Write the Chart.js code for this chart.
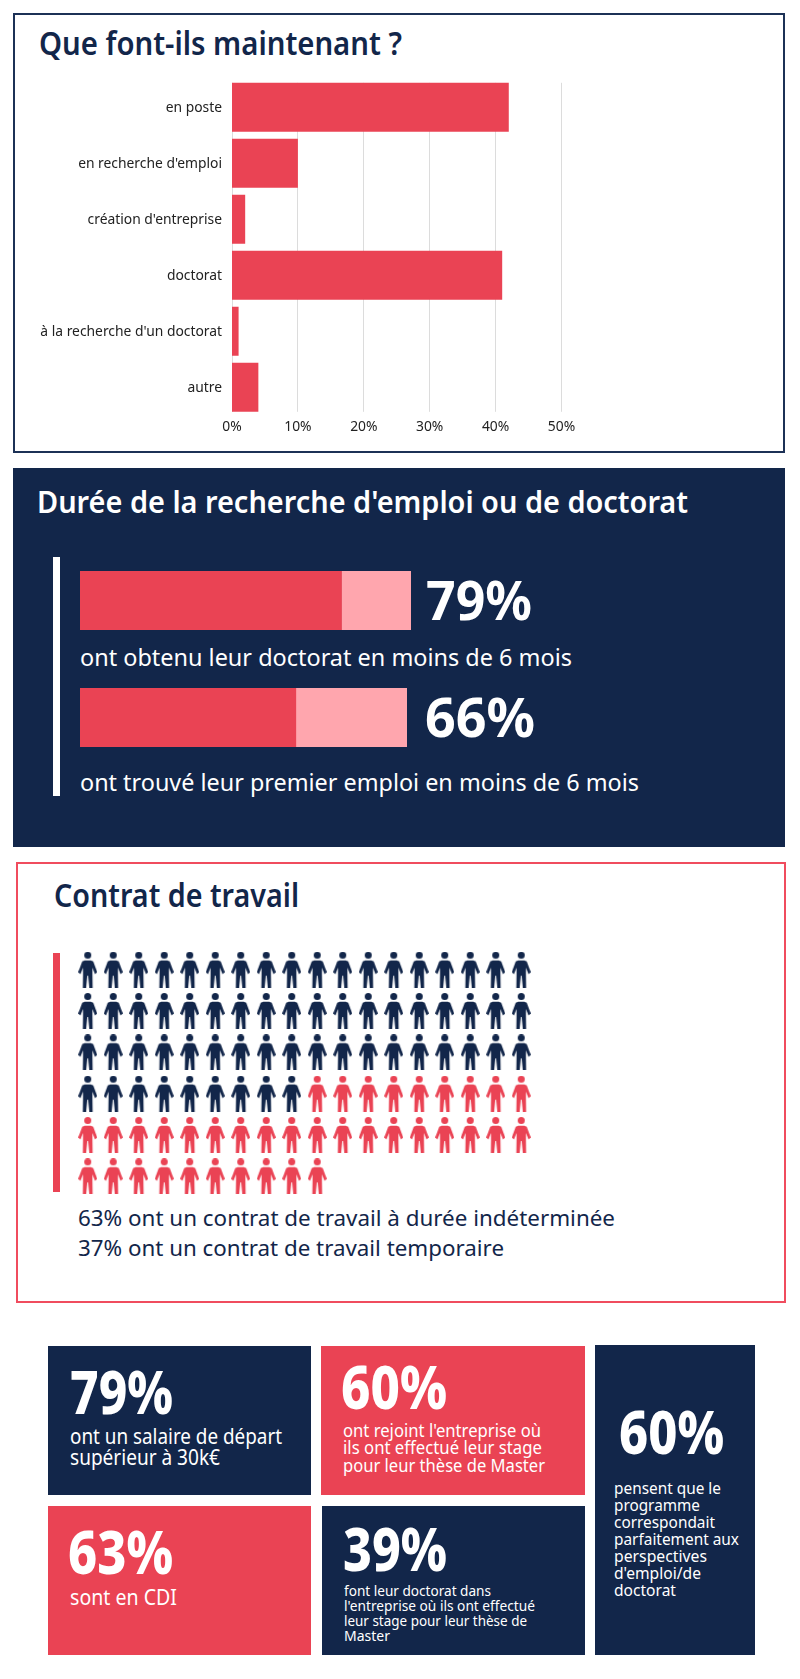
<!DOCTYPE html>
<html lang="fr"><head><meta charset="utf-8">
<script src="https://cdn.jsdelivr.net/npm/chart.js@4"></script>
<style>
html,body{margin:0;padding:0;background:#fff;width:800px;height:1679px;overflow:hidden;position:relative}
.b{position:absolute;box-sizing:border-box}
.navy{background:#12264a}.red{background:#ea4354}
canvas{position:absolute;display:block}
.t{position:absolute;white-space:nowrap;transform-origin:0 0;font-family:"Noto Sans",sans-serif;line-height:1}
.w{color:#fff}.n{color:#12264a}
.h{font-weight:600}.big{font-weight:800}.mid{font-weight:700}
</style></head><body>
<div class="b" style="left:13px;top:13px;width:772px;height:440px;border:2px solid #1c3156"></div>
<div class="b navy" style="left:13.3px;top:468px;width:771.7px;height:379px"></div>
<div class="b" style="left:16px;top:862px;width:770px;height:441px;border:2px solid #f04c5e"></div>
<div class="b" style="left:53px;top:557px;width:7px;height:239px;background:#fff"></div>
<div class="b red" style="left:53px;top:953px;width:7px;height:239px"></div>
<div class="b navy" style="left:48px;top:1346px;width:263px;height:149px"></div>
<div class="b red" style="left:321px;top:1346px;width:264px;height:149px"></div>
<div class="b navy" style="left:595px;top:1345px;width:160px;height:310px"></div>
<div class="b red" style="left:48px;top:1506px;width:263px;height:149px"></div>
<div class="b navy" style="left:322px;top:1506px;width:263px;height:149px"></div>

<canvas id="main" width="600" height="370" style="left:16px;top:70px;width:600px;height:370px"></canvas>
<canvas id="dur1" width="331" height="59" style="left:80px;top:571px;width:331px;height:59px"></canvas>
<canvas id="dur2" width="327" height="59" style="left:80px;top:688px;width:327px;height:59px"></canvas>
<canvas id="waffle" width="459" height="248" style="left:75px;top:949px;width:459px;height:248px"></canvas>

<div class="t n h" style="left:39px;font-size:32px" data-base="55" data-w="363">Que font-ils maintenant ?</div>
<div class="t w h" style="left:37px;font-size:31px" data-base="513" data-w="651">Durée de la recherche d'emploi ou de doctorat</div>
<div class="t w mid" style="left:426px;font-size:54px" data-base="620" data-w="106">79%</div>
<div class="t w mid" style="left:425px;font-size:54px" data-base="737" data-w="110">66%</div>
<div class="t w" style="left:80px;font-size:23px" data-base="666" data-w="492">ont obtenu leur doctorat en moins de 6 mois</div>
<div class="t w" style="left:80px;font-size:23px" data-base="791" data-w="559">ont trouvé leur premier emploi en moins de 6 mois</div>
<div class="t n h" style="left:53.5px;font-size:32px" data-base="907" data-w="245">Contrat de travail</div>
<div class="t n" style="left:78px;font-size:22px" data-base="1226" data-w="537">63% ont un contrat de travail à durée indéterminée</div>
<div class="t n" style="left:78px;font-size:22px" data-base="1256" data-w="426">37% ont un contrat de travail temporaire</div>

<div class="t w big" style="left:70px;font-size:60px" data-base="1414" data-w="103">79%</div>
<div class="t w" style="left:70.4px;font-size:22px" data-base="1444" data-w="212">ont un salaire de départ</div>
<div class="t w" style="left:70.4px;font-size:22px" data-base="1465" data-w="150">supérieur à 30k€</div>

<div class="t w big" style="left:341px;font-size:60px" data-base="1409" data-w="106">60%</div>
<div class="t w" style="left:343.4px;font-size:18.5px" data-base="1437" data-w="198">ont rejoint l'entreprise où</div>
<div class="t w" style="left:343.4px;font-size:18.5px" data-base="1454" data-w="199">ils ont effectué leur stage</div>
<div class="t w" style="left:343.4px;font-size:18.5px" data-base="1472" data-w="202">pour leur thèse de Master</div>

<div class="t w big" style="left:619px;font-size:60px" data-base="1454" data-w="105">60%</div>
<div class="t w" style="left:614.3px;font-size:17px" data-base="1494" data-w="107">pensent que le</div>
<div class="t w" style="left:614.3px;font-size:17px" data-base="1511" data-w="86">programme</div>
<div class="t w" style="left:614.3px;font-size:17px" data-base="1528" data-w="101">correspondait</div>
<div class="t w" style="left:614.3px;font-size:17px" data-base="1545" data-w="125">parfaitement aux</div>
<div class="t w" style="left:614.3px;font-size:17px" data-base="1562" data-w="93">perspectives</div>
<div class="t w" style="left:614.3px;font-size:17px" data-base="1579" data-w="87">d'emploi/de</div>
<div class="t w" style="left:614.3px;font-size:17px" data-base="1596" data-w="62">doctorat</div>

<div class="t w big" style="left:68.4px;font-size:60px" data-base="1574" data-w="105">63%</div>
<div class="t w" style="left:70.4px;font-size:22px" data-base="1605" data-w="107">sont en CDI</div>

<div class="t w big" style="left:343.4px;font-size:60px" data-base="1571" data-w="104">39%</div>
<div class="t w" style="left:344.4px;font-size:15px" data-base="1596" data-w="147">font leur doctorat dans</div>
<div class="t w" style="left:344.4px;font-size:15px" data-base="1611" data-w="191">l'entreprise où ils ont effectué</div>
<div class="t w" style="left:344.4px;font-size:15px" data-base="1626" data-w="183">leur stage pour leur thèse de</div>
<div class="t w" style="left:344.4px;font-size:15px" data-base="1641" data-w="46">Master</div>

<script>
const situationLabels = ["en poste","en recherche d'emploi","création d'entreprise","doctorat","à la recherche d'un doctorat","autre"];
const situationValues = [42,10,2,41,1,4];
const axisTicks = [0,10,20,30,40,50];
const doctoratSplit = [79,21];
const emploiSplit = [66,34];
const contractLabels = ["CDI","temporaire"];
const contractCounts = [63,37];

const NAVY="#12264a", RED="#ea4354", PINK="#ffa6ae";
Chart.defaults.animation=false;
Chart.defaults.responsive=false;
Chart.defaults.font.family='"Noto Sans",sans-serif';

/* text: baseline + width fitting */
document.querySelectorAll('.t').forEach(el=>{
  const m=document.createElement('span');
  m.style.cssText='display:inline-block;width:0;height:0;vertical-align:baseline';
  el.style.top='0px';
  el.appendChild(m);
  const off=m.getBoundingClientRect().bottom-el.getBoundingClientRect().top;
  el.removeChild(m);
  el.style.top=(+el.dataset.base-off)+'px';
  const w=el.getBoundingClientRect().width;
  el.style.transform='scaleX('+(+el.dataset.w/w)+')';
});

/* grid lines that span exactly from the first bar's top to the last bar's bottom */
const barGrid={id:'barGrid',beforeDatasetsDraw(c){
  const x=c.scales.x,ctx=c.ctx,bars=c.getDatasetMeta(0).data;
  const top=bars[0].y-bars[0].height/2,bottom=bars[bars.length-1].y+bars[bars.length-1].height/2;
  ctx.save();ctx.strokeStyle='#dcdcdc';ctx.lineWidth=1;
  axisTicks.forEach(v=>{const p=Math.floor(x.getPixelForValue(v))+.5;ctx.beginPath();ctx.moveTo(p,top);ctx.lineTo(p,bottom);ctx.stroke();});
  ctx.restore();
}};
new Chart(document.getElementById('main'),{
  type:'bar',plugins:[barGrid],
  data:{labels:situationLabels,datasets:[{data:situationValues,backgroundColor:RED,barPercentage:.875,categoryPercentage:1}]},
  options:{indexAxis:'y',layout:{padding:{top:9.3,right:54.5,left:0,bottom:0}},
    plugins:{legend:{display:false},tooltip:{enabled:false}},
    scales:{
      x:{min:0,max:50,afterBuildTicks(a){a.ticks=axisTicks.map(v=>({value:v}))},afterFit(a){a.height=24.7},
        border:{display:false},grid:{display:false,drawTicks:false},
        ticks:{padding:3,color:'#222',font:{size:13.85},callback:v=>v+'%',maxRotation:0}},
      y:{afterFit(a){a.width=216;a.paddingTop=0;a.paddingBottom=0},border:{display:false},grid:{display:false,drawTicks:false},
        ticks:{padding:10,color:'#222',font:{size:13.85},labelOffset:1}}
    }}
});

function splitBar(id,values){
  new Chart(document.getElementById(id),{type:'bar',
    data:{labels:[''],datasets:[
      {data:[values[0]],backgroundColor:RED,barPercentage:1,categoryPercentage:1,stack:'s'},
      {data:[values[1]],backgroundColor:PINK,barPercentage:1,categoryPercentage:1,stack:'s'}]},
    options:{indexAxis:'y',layout:{padding:0},plugins:{legend:{display:false},tooltip:{enabled:false}},
      scales:{x:{display:false,stacked:true,min:0,max:100},y:{display:false,stacked:true}}}});
}
splitBar('dur1',doctoratSplit);
splitBar('dur2',emploiSplit);

function person(color){
  const c=document.createElement('canvas');c.width=19;c.height=36;
  const g=c.getContext('2d');g.fillStyle=color;
  g.beginPath();g.arc(9.5,3.6,3.5,0,Math.PI*2);g.fill();
  const s=[[6.5,8.7],[12.5,8.7],[15,9.7],[19,20.5],[16.8,22.5],[14.2,16],[14.2,23],[14.4,36],[11.1,36],[9.9,24],[9.1,24],[7.9,36],[4.6,36],[4.8,23],[4.8,16],[2.2,22.5],[0,20.5],[4,9.7]];
  g.beginPath();s.forEach((p,i)=>i?g.lineTo(p[0],p[1]):g.moveTo(p[0],p[1]));g.closePath();g.fill();
  return c;
}
const perRow=18;let seat=0;
const waffleSets=contractCounts.map((n,k)=>{
  const pts=[];
  for(let i=0;i<n;i++,seat++)pts.push({x:seat%perRow,y:Math.floor(seat/perRow)});
  return {label:contractLabels[k],data:pts,pointStyle:person(k?RED:NAVY)};
});
new Chart(document.getElementById('waffle'),{type:'scatter',data:{datasets:waffleSets},
  options:{layout:{padding:0,autoPadding:false},clip:false,plugins:{legend:{display:false},tooltip:{enabled:false}},
    scales:{x:{display:false,min:-.5,max:17.5},y:{display:false,min:-.5,max:5.5,reverse:true}}}});
</script>
</body></html>
